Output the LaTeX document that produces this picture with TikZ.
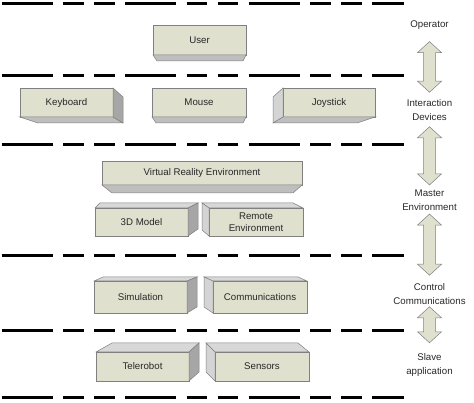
\documentclass[tikz,border=0pt]{standalone}
\usepackage{fontspec}
\setmainfont{Liberation Sans}
\usetikzlibrary{calc}

\definecolor{boxfill}{RGB}{223,224,206}
\definecolor{boxline}{RGB}{128,128,128}
\definecolor{sidebot}{RGB}{190,190,190}
\definecolor{sidetop}{RGB}{216,216,216}
\definecolor{sideleft}{RGB}{212,212,212}
\definecolor{sideright}{RGB}{166,166,166}
\definecolor{txt}{RGB}{40,40,40}

\tikzset{
  slab/.style={draw=boxline, fill=boxfill, line width=0.5pt, inner sep=0pt, outer sep=0pt,
    minimum width=93, minimum height=29, text=txt, align=center,
    font=\fontsize{9.7}{12.5}\selectfont},
  botside/.style={draw=boxline, fill=sidebot, line width=0.5pt},
  topside/.style={draw=boxline, fill=sidetop, line width=0.5pt},
  leftside/.style={draw=boxline, fill=sideleft, line width=0.5pt},
  rightside/.style={draw=boxline, fill=sideright, line width=0.5pt},
  lbl/.style={inner sep=0pt, align=center, text=txt, font=\fontsize{9.7}{14}\selectfont},
  fatarrow/.style={draw=boxline, fill=boxfill, line width=0.5pt},
  sep/.style={line width=3pt, dash pattern=on 51pt off 10.5pt on 20.5pt off 10.5pt on 20.5pt off 10.5pt}
}

% one side of a slab: two front corners and the offsets of the back corners
\newcommand\face[5]{\filldraw[#1] (#2) -- (#3) -- ($(#3)+(#5)$) -- ($(#2)+(#4)$) -- cycle;}

% block arrow with a head at both ends
\newcommand\updown[2]{%
  \coordinate (up) at (#1);
  \coordinate (dn) at (#2);
  \filldraw[fatarrow] (up) -- ($(up)+(12,11)$) -- ($(up)+(6,11)$) -- ($(dn)+(6,-11)$)
    -- ($(dn)+(12,-11)$) -- (dn) -- ($(dn)+(-12,-11)$) -- ($(dn)+(-6,-11)$)
    -- ($(up)+(-6,11)$) -- ($(up)+(-12,11)$) -- cycle;}

\begin{document}
\begin{tikzpicture}[x=1pt, y=-1pt]
  \useasboundingbox (0,0) rectangle (474,403);

  % layer separators
  \foreach \y in {4,76,145,256,331,397}
    \draw[sep] (1.7,\y) -- (404.3,\y);

  % operator
  \node[slab, minimum height=30] (user) at (199.5,40) {User};
  \face{botside}{user.south west}{user.south east}{4,6}{-3,6}

  % interaction devices
  \node[slab] (kb) at (66.5,102.5) {Keyboard};
  \face{botside}{kb.south west}{kb.south east}{18,6}{10,6}
  \face{rightside}{kb.north east}{kb.south east}{10,9}{10,6}

  \node[slab, minimum width=94] (mouse) at (199,102.5) {Mouse};
  \face{botside}{mouse.south west}{mouse.south east}{4,6}{-3,6}

  \node[slab, minimum width=92] (joy) at (329,102.5) {Joystick};
  \face{leftside}{joy.north west}{joy.south west}{-10,9}{-10,6}
  \face{botside}{joy.south west}{joy.south east}{-10,6}{-18,6}

  % master environment
  \node[slab, minimum width=200, minimum height=24] (vr) at (202,173) {Virtual Reality Environment};
  \face{botside}{vr.south west}{vr.south east}{10,8}{-9,8}

  \node[slab, minimum height=28] (model) at (141.5,222) {3D Model};
  \face{topside}{model.north west}{model.north east}{5,-5}{10,-5}
  \face{rightside}{model.north east}{model.south east}{10,-5}{10,-7}

  \node[slab, minimum width=94, minimum height=28] (remote) at (256,222) {Remote\\Environment};
  \face{topside}{remote.north west}{remote.north east}{-7,-5}{-10,-5}
  \face{leftside}{remote.north west}{remote.south west}{-7,-5}{-7,-6}

  % control communications
  \node[slab, minimum height=32] (sim) at (140.5,297) {Simulation};
  \face{topside}{sim.north west}{sim.north east}{9,-4}{10,-4}
  \face{rightside}{sim.north east}{sim.south east}{10,-4}{10,-6}

  \node[slab, minimum width=94, minimum height=32] (comm) at (260,297) {Communications};
  \face{topside}{comm.north west}{comm.north east}{-9,-4}{-9,-4}
  \face{leftside}{comm.north west}{comm.south west}{-9,-4}{-9,-6}

  % slave application
  \node[slab] (robot) at (142.5,366.5) {Telerobot};
  \face{topside}{robot.north west}{robot.north east}{16,-9}{10,-9}
  \face{rightside}{robot.north east}{robot.south east}{10,-9}{10,-9}

  \node[slab, minimum width=94] (sens) at (262,366.5) {Sensors};
  \face{topside}{sens.north west}{sens.north east}{-9,-9}{-11,-9}
  \face{leftside}{sens.north west}{sens.south west}{-9,-9}{-9,-9}

  % layer names
  \node[lbl] (op) at (429.5,25) {Operator};
  \node[lbl] (id) at (429.5,110) {Interaction\\Devices};
  \node[lbl] (me) at (429.5,200.5) {Master\\Environment};
  \node[lbl] (cc) at (429.5,294) {Control\\Communications};
  \node[lbl] (sa) at (429.5,364.5) {Slave\\application};

  \updown{$(op.south)+(0,12)$}{$(id.north)+(0,-7)$}
  \updown{$(id.south)+(0,6)$}{$(me.north)+(0,-5)$}
  \updown{$(me.south)+(0,3)$}{$(cc.north)+(0,-8)$}
  \updown{$(cc.south)+(0,2)$}{$(sa.north)+(0,-10)$}
\end{tikzpicture}
\end{document}
